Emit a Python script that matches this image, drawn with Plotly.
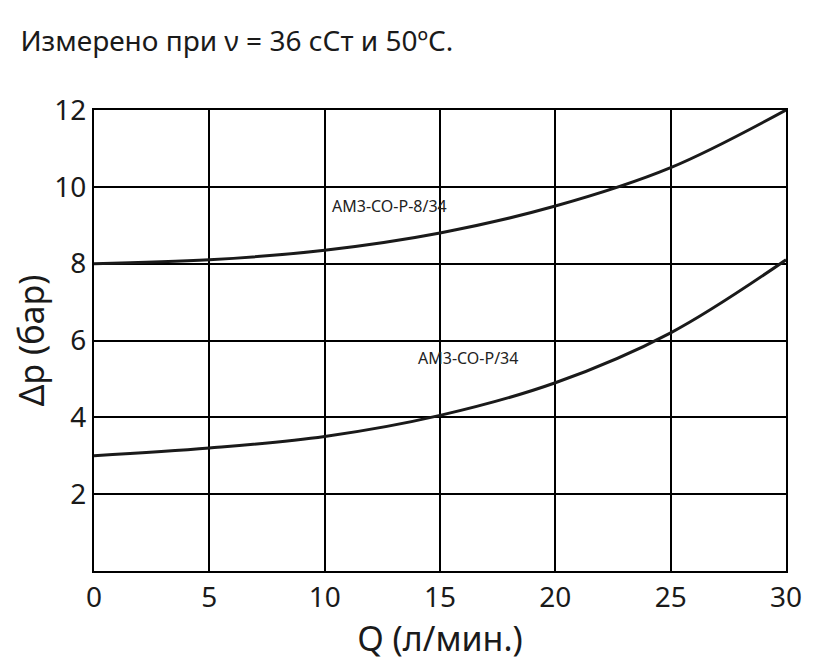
import plotly.graph_objects as go

q = [0, 5, 10, 15, 20, 25, 30]
dp_8_34 = [8.0, 8.1, 8.35, 8.8, 9.5, 10.5, 12.0]
dp_34 = [3.0, 3.2, 3.5, 4.05, 4.9, 6.2, 8.1]

fig = go.Figure()
fig.add_trace(go.Scatter(x=q, y=dp_8_34, mode='lines', line=dict(color='#1a1a1a', width=3, shape='spline')))
fig.add_trace(go.Scatter(x=q, y=dp_34, mode='lines', line=dict(color='#1a1a1a', width=3, shape='spline')))

fig.add_annotation(x=12.8, y=9.5, text='AM3-CO-P-8/34', showarrow=False, xanchor='center', yanchor='middle',
                   font=dict(size=16, color='#222'))
fig.add_annotation(x=16.2, y=5.55, text='AM3-CO-P/34', showarrow=False, xanchor='center', yanchor='middle',
                   font=dict(size=16, color='#222'))

fig.update_layout(
    width=827, height=669,
    margin=dict(l=86, r=49, t=102, b=106, autoexpand=False),
    plot_bgcolor='white', paper_bgcolor='white',
    showlegend=False,
    font=dict(family='Noto Sans', size=28, color='#1a1a1a'),
    title=dict(text='Измерено при ν = 36 сСт и 50ºC.', x=0.015, xanchor='left', y=0.95, yanchor='middle',
               font=dict(size=28)),
    xaxis=dict(range=[0, 30], tickvals=[0, 5, 10, 15, 20, 25, 30], showgrid=True, gridcolor='black', gridwidth=2,
               showline=True, linecolor='black', linewidth=2, mirror=True, zeroline=False, ticks='',
               automargin=False, title=dict(text='Q (л/мин.)', standoff=8)),
    yaxis=dict(range=[0, 12], tickvals=[2, 4, 6, 8, 10, 12], showgrid=True, gridcolor='black', gridwidth=2,
               showline=True, linecolor='black', linewidth=2, mirror=True, zeroline=False, ticks='',
               automargin=False, title=dict(text='Δp (бар)', standoff=10)),
)

fig.write_html("out.html")
